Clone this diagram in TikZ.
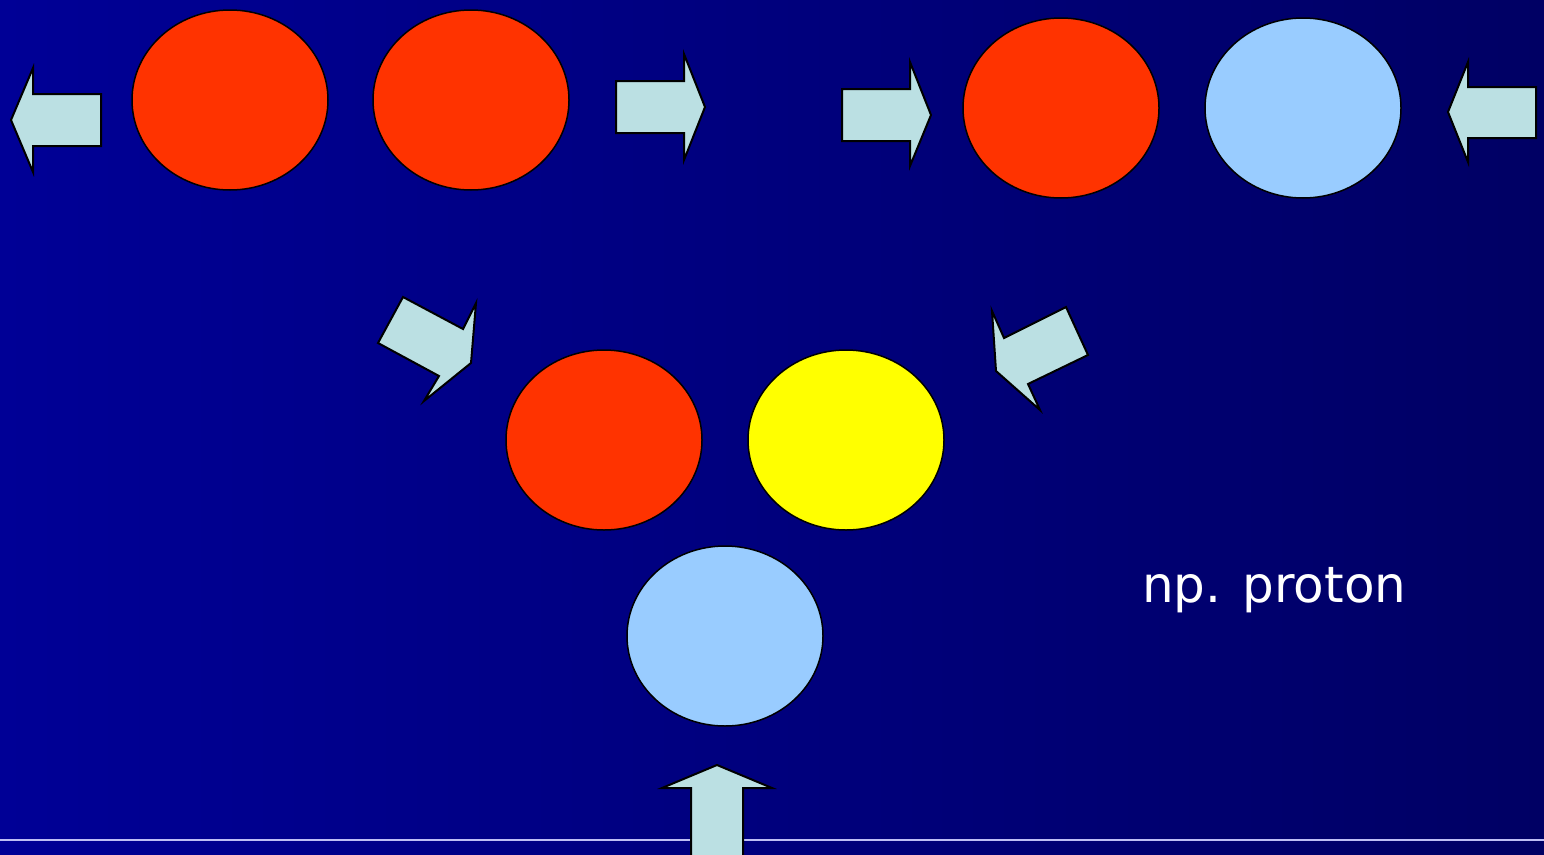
\documentclass[tikz,border=0pt]{standalone}
\usepackage{fontspec}
\newfontfamily\labelfont{DejaVu Sans}
\usetikzlibrary{shapes.geometric}
\definecolor{bgleft}{RGB}{0,0,150}
\definecolor{bgright}{RGB}{0,0,100}
\definecolor{nucred}{RGB}{255,51,0}
\definecolor{nucyellow}{RGB}{255,255,0}
\definecolor{nucblue}{RGB}{153,204,255}
\definecolor{arrowfill}{RGB}{187,224,227}
\definecolor{rulecol}{RGB}{190,190,245}
\begin{document}
\begin{tikzpicture}[x=1pt, y=-1pt,
  nucleon/.style={shape=ellipse, draw=black, line width=1.5pt, minimum width=196pt, minimum height=180pt, inner sep=0pt},
  blockarrow/.style={draw=black, fill=arrowfill, line width=2pt, line join=miter}]
\useasboundingbox (0,0) rectangle (1544,854);
\shade[left color=bgleft, right color=bgright] (0,0) rectangle (1544,854);
\draw[rulecol, line width=2pt] (0,840) -- (1544,840);
% top row
\node[nucleon, fill=nucred] (r1) at (230,100) {};
\node[nucleon, fill=nucred] (r2) at (471,100) {};
\node[nucleon, fill=nucred] (r3) at (1061,108) {};
\node[nucleon, fill=nucblue] (b1) at (1303,108) {};
% middle
\node[nucleon, fill=nucred] (r4) at (604,440) {};
\node[nucleon, fill=nucyellow] (y1) at (846,440) {};
\node[nucleon, fill=nucblue] (b2) at (725,636) {};
% arrows
\draw[blockarrow] (11,120) -- (33,68) -- (33,94) -- (101,94) -- (101,146) -- (33,146) -- (33,172) -- cycle;
\draw[blockarrow] (705,107) -- (684,54) -- (684,81) -- (616,81) -- (616,133) -- (684,133) -- (684,160) -- cycle;
\draw[blockarrow] (931,115) -- (910,62) -- (910,89) -- (842,89) -- (842,141) -- (910,141) -- (910,166) -- cycle;
\draw[blockarrow] (1448,112) -- (1468,62) -- (1468,87) -- (1536,87) -- (1536,138) -- (1468,138) -- (1468,162) -- cycle;
\draw[blockarrow] (403,297) -- (463,329) -- (476,303) -- (471,363) -- (424,401) -- (439,376) -- (378,343) -- cycle;
\draw[blockarrow] (1066,307) -- (1088,355) -- (1028,384) -- (1040,410) -- (996,371) -- (992,311) -- (1004,338) -- cycle;
\draw[blockarrow] (717,765) -- (772,788) -- (743,788) -- (743,860) -- (691,860) -- (691,788) -- (662,788) -- cycle;
% label
\node[anchor=base west, inner sep=0pt, text=white, font=\labelfont\fontsize{50}{60}\selectfont] (lbl) at (1142,602) {np. proton};
\end{tikzpicture}
\end{document}
